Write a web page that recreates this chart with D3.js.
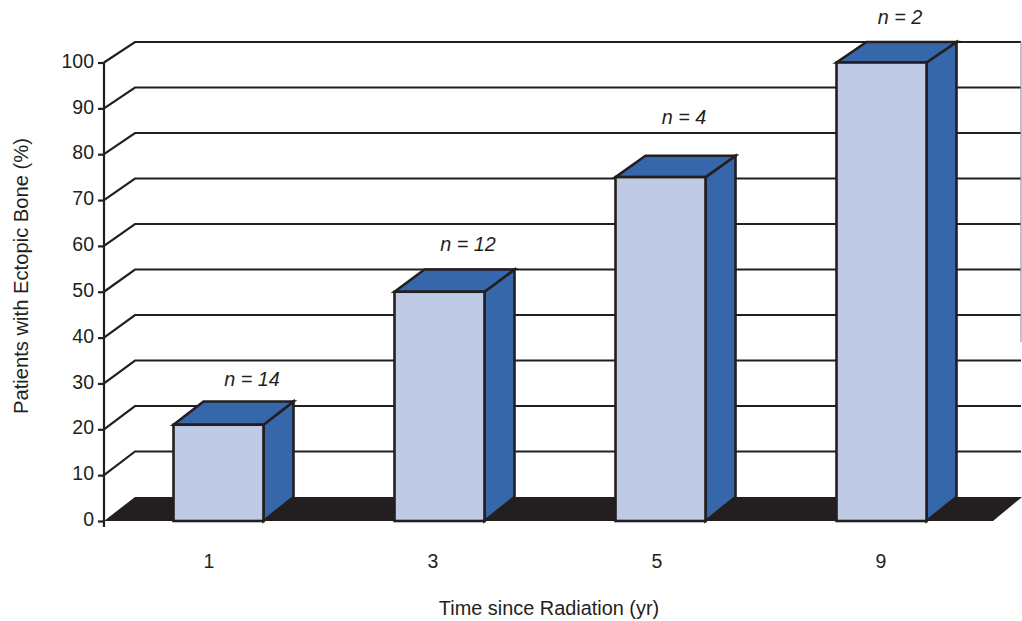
<!DOCTYPE html>
<html><head><meta charset="utf-8">
<style>html,body{margin:0;padding:0;background:#fff}svg{display:block}
text{font-family:"Liberation Sans",Arial,sans-serif;fill:#231f20}</style>
<script src="https://cdn.jsdelivr.net/npm/d3@7"></script></head>
<body><svg id="c" width="1022" height="621"></svg>
<script>
const categories = ["1","3","5","9"];
const values = [21,50,75,100];
const sampleLabels = ["n = 14","n = 12","n = 4","n = 2"];
const sampleLabelLevels = [31,60.5,88,110];
const yTicks = [0,10,20,30,40,50,60,70,80,90,100];
const xTitle = "Time since Radiation (yr)";
const yTitle = "Patients with Ectopic Bone (%)";

const ink="#231f20", front="#bfcae5", side="#3767ab";
const svg=d3.select("#c");
const yFront=d3.scaleLinear().domain([0,100]).range([521,62.5]);
const yBack=d3.scaleLinear().domain([0,100]).range([497,42]);
const x=d3.scaleBand().domain(categories).range([108,992]).paddingInner(1-90/221).paddingOuter((1-90/221)/2);
const xCat=d3.scalePoint().domain(categories).range([209,881]);
const xLab=d3.scalePoint().domain(sampleLabels).range([252,900]);
const x0=104, depth=31, wallRight=1021;

// walls
svg.append("g").selectAll("path").data(yTicks.filter(d=>d>0)).join("path")
  .attr("d",d=>d3.line()([[x0,yFront(d)],[x0+depth,yBack(d)],[wallRight,yBack(d)]]))
  .attr("fill","none").attr("stroke",ink).attr("stroke-width",2.2);
svg.append("line").attr("x1",wallRight).attr("x2",wallRight).attr("y1",yBack(100)).attr("y2",yBack(34))
  .attr("stroke","#9a9899").attr("stroke-width",1.2);
// floor
svg.append("path").attr("d",d3.line()([[x0,yFront(0)],[x0+depth,yBack(0)],[1022,yBack(0)],[993,yFront(0)]])+"Z").attr("fill",ink);

// y axis
const ax=d3.axisLeft(yFront).tickValues(yTicks).tickSize(6).tickPadding(4).tickSizeOuter(0);
const g=svg.append("g").attr("transform",`translate(${x0},0)`).call(ax);
g.select(".domain").attr("stroke",ink).attr("stroke-width",2.2).attr("d",`M0,${yFront(100)}V527`);
g.selectAll(".tick line").attr("stroke",ink).attr("stroke-width",2.2);
g.selectAll(".tick text").attr("font-size",19.5).attr("fill",ink).attr("font-family","Liberation Sans").attr("dy","0.24em");

// bars
const bars=svg.append("g").selectAll("g").data(categories.map((c,i)=>({c,v:values[i]}))).join("g")
  .attr("stroke",ink).attr("stroke-width",2.6).attr("stroke-linejoin","miter");
const bw=x.bandwidth(), bd=30;
bars.append("path").attr("fill",side).attr("d",d=>{const L=x(d.c)+bw;return d3.line()([[L,yFront(d.v)],[L+bd,yBack(d.v)],[L+bd,yBack(0)],[L,yFront(0)]])+"Z"});
bars.append("path").attr("fill",side).attr("d",d=>{const L=x(d.c);return d3.line()([[L,yFront(d.v)],[L+bd,yBack(d.v)],[L+bw+bd,yBack(d.v)],[L+bw,yFront(d.v)]])+"Z"});
bars.append("rect").attr("fill",front).attr("x",d=>x(d.c)).attr("width",bw).attr("y",d=>yFront(d.v)).attr("height",d=>yFront(0)-yFront(d.v));

// labels
svg.append("g").selectAll("text").data(sampleLabels).join("text")
  .attr("x",d=>xLab(d)).attr("y",(d,i)=>yFront(sampleLabelLevels[i])).attr("text-anchor","middle")
  .attr("dy","0.35em").attr("font-size",19.8).attr("font-style","italic").text(d=>d);
svg.append("g").selectAll("text").data(categories).join("text")
  .attr("x",d=>xCat(d)).attr("y",561).attr("dy","0.35em").attr("text-anchor","middle").attr("font-size",19.5).text(d=>d);
svg.append("text").attr("x",549).attr("y",608).attr("dy","0.35em").attr("text-anchor","middle").attr("font-size",19.9).text(xTitle);
svg.append("text").attr("transform","translate(21,276) rotate(-90)").attr("dy","0.35em").attr("text-anchor","middle").attr("font-size",20.2).text(yTitle);
</script></body></html>
